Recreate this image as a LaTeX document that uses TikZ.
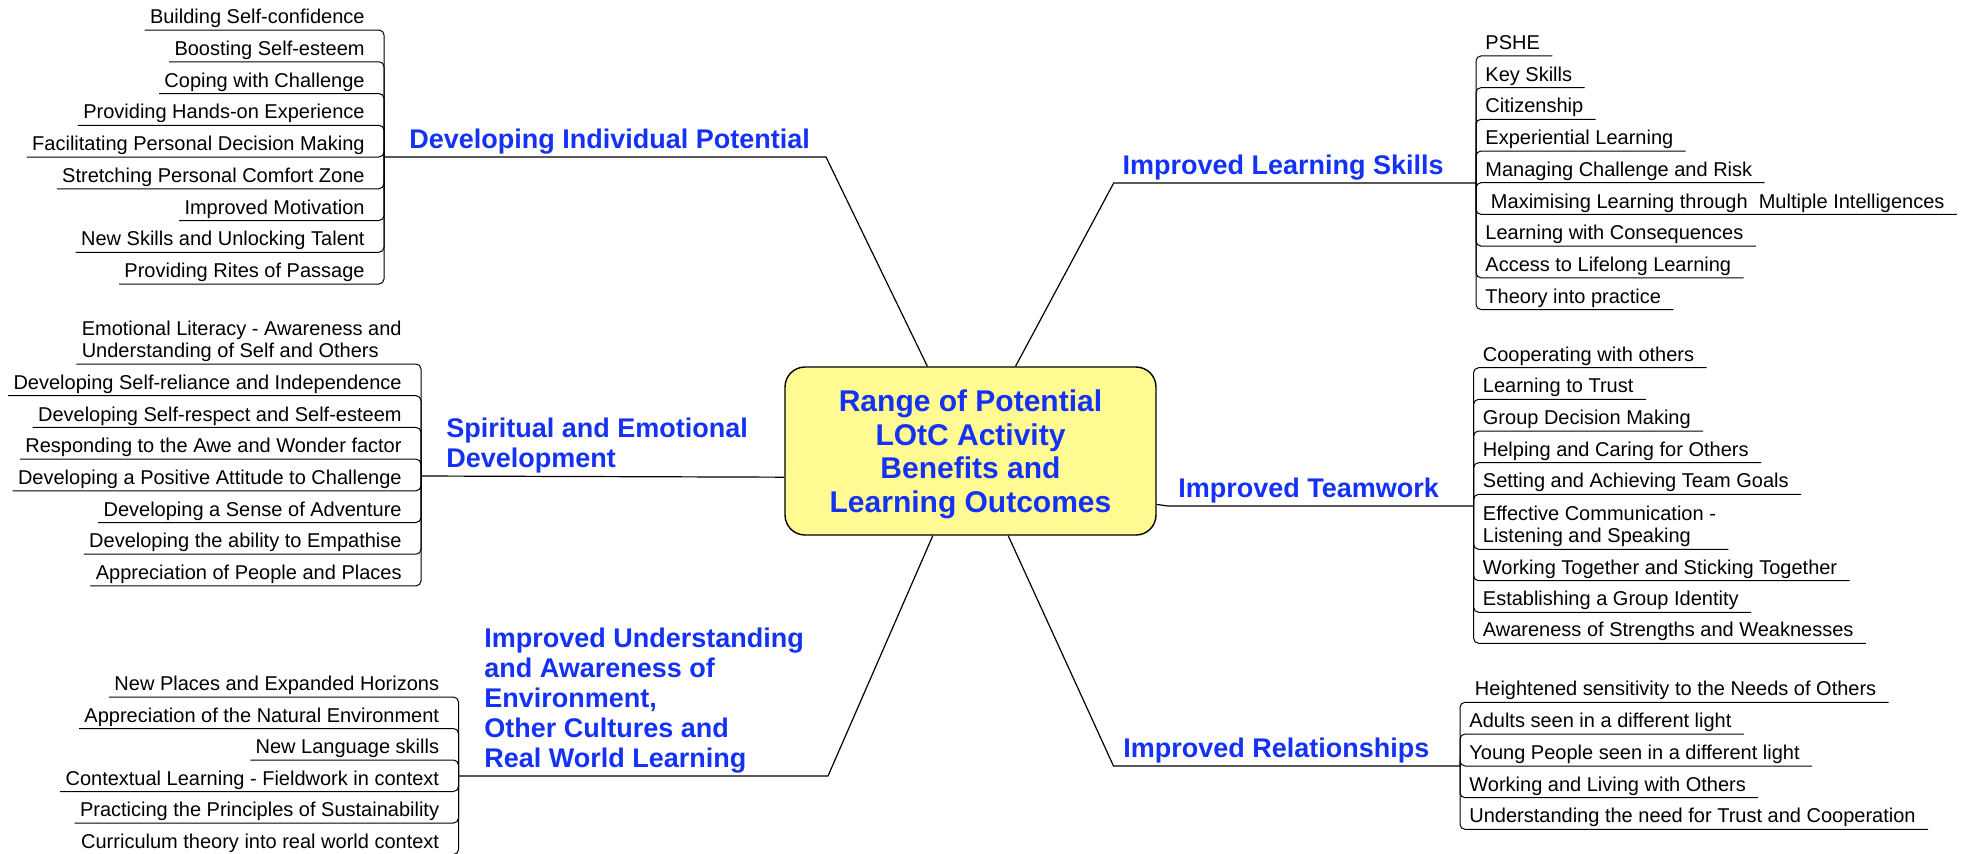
\documentclass[tikz,border=0pt]{standalone}
\usepackage{fontspec}
\setmainfont{Liberation Sans}
\usepackage{tikz}
\usetikzlibrary{positioning}
\definecolor{topicblue}{RGB}{20,50,245}
\definecolor{boxyellow}{RGB}{255,250,145}

\begin{document}
\begin{tikzpicture}[x=0.5pt,y=-0.5pt,
	centre/.style={rectangle,rounded corners=10pt,draw=black,line width=0.7pt,fill=boxyellow,text=topicblue,font=\fontsize{15}{16.75}\selectfont\bfseries,align=center,minimum width=185.5pt,minimum height=84pt,inner sep=0pt,text depth=0pt},
	topic/.style={text=topicblue,font=\fontsize{13.5}{15}\selectfont\bfseries,align=left,inner xsep=0pt,inner ysep=4.25pt,text depth=0pt},
	leafL/.style={anchor=south east,font=\fontsize{10}{11}\selectfont,inner xsep=2.5pt,inner ysep=3pt,text depth=0pt},
	leafR/.style={anchor=south west,font=\fontsize{10}{11}\selectfont,inner xsep=6pt,inner ysep=3pt,text depth=0pt},
	branch/.style={line width=0.6pt},
	twig/.style={line width=0.5pt,rounded corners=2.5pt}
	]
\useasboundingbox (0,0) rectangle (1975,853);

% central topic
\node [centre] (box) at (970.5,451) {Range of Potential\\LOtC Activity\\Benefits and\\Learning Outcomes};

% bends and junctions
\coordinate (dipk) at (826,157);
\coordinate (dipj) at (384,157);
\coordinate (sedj) at (421,476);
\coordinate (iuek) at (828,776);
\coordinate (iuej) at (458.5,776);
\coordinate (ilsk) at (1113.7,183);
\coordinate (ilsj) at (1476,183);
\coordinate (itik) at (1168,506);
\coordinate (itij) at (1473.6,506);
\coordinate (irlk) at (1113.5,766);
\coordinate (irlj) at (1460,766);

% main topics
\node [topic, above right=0pt and 12.5pt of dipj] (dip) {Developing Individual Potential};
\node [topic, above right=0pt and 12.5pt of sedj] (sed) {Spiritual and Emotional\\Development};
\node [topic, above right=0pt and 12.75pt of iuej] (iue) {Improved Understanding\\and Awareness of\\Environment,\\Other Cultures and\\Real World Learning};
\node [topic, above right=0pt and 4.25pt of ilsk] (ils) {Improved Learning Skills};
\node [topic, above right=0pt and 5pt of itik] (iti) {Improved Teamwork};
\node [topic, above right=0pt and 4.75pt of irlk] (irl) {Improved Relationships};

% branches
\draw [branch] (box.117) -- (dipk) -- (dipj);
\draw [branch] (box.188) -- (sedj);
\draw [branch] (box.246) -- (iuek) -- (iuej);
\draw [branch] (box.62) -- (ilsk) -- (ilsj);
\draw [branch] (box.344) -- (itik) -- (itij);
\draw [branch] (box.294) -- (irlk) -- (irlj);

% individual potential
\node [leafL] (dip1) at (370,30) {Building Self-confidence};
\node [leafL] (dip2) at (370,61.75) {Boosting Self-esteem};
\node [leafL] (dip3) at (370,93.5) {Coping with Challenge};
\node [leafL] (dip4) at (370,125.25) {Providing Hands-on Experience};
\node [leafL] (dip5) at (370,157) {Facilitating Personal Decision Making};
\node [leafL] (dip6) at (370,188.75) {Stretching Personal Comfort Zone};
\node [leafL] (dip7) at (370,220.5) {Improved Motivation};
\node [leafL] (dip8) at (370,252.25) {New Skills and Unlocking Talent};
\node [leafL] (dip9) at (370,284) {Providing Rites of Passage};
\draw [twig] (dipj) |- (dip1.south west);
\draw [twig] (dipj) |- (dip2.south west);
\draw [twig] (dipj) |- (dip3.south west);
\draw [twig] (dipj) |- (dip4.south west);
\draw [twig] (dipj) |- (dip5.south west);
\draw [twig] (dipj) |- (dip6.south west);
\draw [twig] (dipj) |- (dip7.south west);
\draw [twig] (dipj) |- (dip8.south west);
\draw [twig] (dipj) |- (dip9.south west);

% spiritual and emotional
\node [leafL, align=left] (sed1) at (407,364) {Emotional Literacy - Awareness and\\Understanding of Self and Others};
\node [leafL] (sed2) at (407,395.7) {Developing Self-reliance and Independence};
\node [leafL] (sed3) at (407,427.4) {Developing Self-respect and Self-esteem};
\node [leafL] (sed4) at (407,459.1) {Responding to the Awe and Wonder factor};
\node [leafL] (sed5) at (407,490.8) {Developing a Positive Attitude to Challenge};
\node [leafL] (sed6) at (407,522.5) {Developing a Sense of Adventure};
\node [leafL] (sed7) at (407,554.2) {Developing the ability to Empathise};
\node [leafL] (sed8) at (407,585.9) {Appreciation of People and Places};
\draw [twig] (sedj) |- (sed1.south west);
\draw [twig] (sedj) |- (sed2.south west);
\draw [twig] (sedj) |- (sed3.south west);
\draw [twig] (sedj) |- (sed4.south west);
\draw [twig] (sedj) |- (sed5.south west);
\draw [twig] (sedj) |- (sed6.south west);
\draw [twig] (sedj) |- (sed7.south west);
\draw [twig] (sedj) |- (sed8.south west);

% understanding and awareness
\node [leafL] (iue1) at (444.5,697) {New Places and Expanded Horizons};
\node [leafL] (iue2) at (444.5,728.5) {Appreciation of the Natural Environment};
\node [leafL] (iue3) at (444.5,760) {New Language skills};
\node [leafL] (iue4) at (444.5,791.5) {Contextual Learning - Fieldwork in context};
\node [leafL] (iue5) at (444.5,823) {Practicing the Principles of Sustainability};
\node [leafL] (iue6) at (444.5,854.5) {Curriculum theory into real world context};
\draw [twig] (iuej) |- (iue1.south west);
\draw [twig] (iuej) |- (iue2.south west);
\draw [twig] (iuej) |- (iue3.south west);
\draw [twig] (iuej) |- (iue4.south west);
\draw [twig] (iuej) |- (iue5.south west);
\draw [twig] (iuej) |- (iue6.south west);

% learning skills
\node [leafR] (ils1) at (1473,55.9) {PSHE};
\node [leafR] (ils2) at (1473,87.6) {Key Skills};
\node [leafR] (ils3) at (1473,119.3) {Citizenship};
\node [leafR] (ils4) at (1473,151) {Experiential Learning};
\node [leafR] (ils5) at (1473,182.7) {Managing Challenge and Risk};
\node [leafR] (ils6) at (1473,214.4) {\ Maximising Learning through\ \ Multiple Intelligences};
\node [leafR] (ils7) at (1473,246.1) {Learning with Consequences};
\node [leafR] (ils8) at (1473,277.8) {Access to Lifelong Learning};
\node [leafR] (ils9) at (1473,309.5) {Theory into practice};
\draw [twig] (ilsj) |- (ils1.south east);
\draw [twig] (ilsj) |- (ils2.south east);
\draw [twig] (ilsj) |- (ils3.south east);
\draw [twig] (ilsj) |- (ils4.south east);
\draw [twig] (ilsj) |- (ils5.south east);
\draw [twig] (ilsj) |- (ils6.south east);
\draw [twig] (ilsj) |- (ils7.south east);
\draw [twig] (ilsj) |- (ils8.south east);
\draw [twig] (ilsj) |- (ils9.south east);

% teamwork
\node [leafR] (iti1) at (1470.5,367.7) {Cooperating with others};
\node [leafR] (iti2) at (1470.5,399.3) {Learning to Trust};
\node [leafR] (iti3) at (1470.5,431) {Group Decision Making};
\node [leafR] (iti4) at (1470.5,462.7) {Helping and Caring for Others};
\node [leafR] (iti5) at (1470.5,494.3) {Setting and Achieving Team Goals};
\node [leafR, align=left] (iti6) at (1470.5,549.3) {Effective Communication -\\Listening and Speaking};
\node [leafR] (iti7) at (1470.5,580.7) {Working Together and Sticking Together};
\node [leafR] (iti8) at (1470.5,612.3) {Establishing a Group Identity};
\node [leafR] (iti9) at (1470.5,643.3) {Awareness of Strengths and Weaknesses};
\draw [twig] (itij) |- (iti1.south east);
\draw [twig] (itij) |- (iti2.south east);
\draw [twig] (itij) |- (iti3.south east);
\draw [twig] (itij) |- (iti4.south east);
\draw [twig] (itij) |- (iti5.south east);
\draw [twig] (itij) |- (iti6.south east);
\draw [twig] (itij) |- (iti7.south east);
\draw [twig] (itij) |- (iti8.south east);
\draw [twig] (itij) |- (iti9.south east);

% relationships
\node [leafR] (irl1) at (1457,702.3) {\ Heightened sensitivity to the Needs of Others};
\node [leafR] (irl2) at (1457,734) {Adults seen in a different light};
\node [leafR] (irl3) at (1457,766) {Young People seen in a different light};
\node [leafR] (irl4) at (1457,797.7) {Working and Living with Others};
\node [leafR] (irl5) at (1457,829.3) {Understanding the need for Trust and Cooperation};
\draw [twig] (irlj) |- (irl1.south east);
\draw [twig] (irlj) |- (irl2.south east);
\draw [twig] (irlj) |- (irl3.south east);
\draw [twig] (irlj) |- (irl4.south east);
\draw [twig] (irlj) |- (irl5.south east);
\end{tikzpicture}
\end{document}
